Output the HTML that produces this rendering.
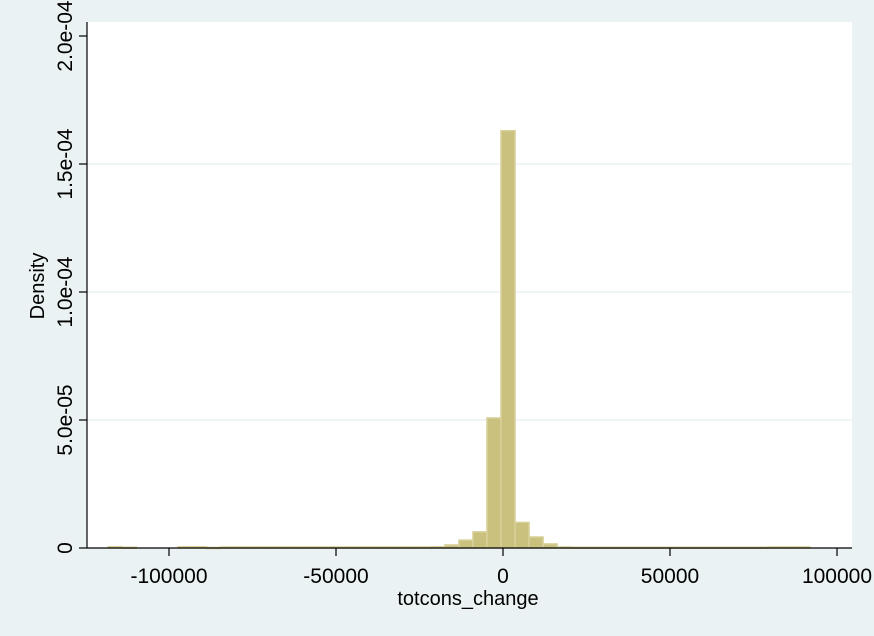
<!DOCTYPE html>
<html><head><meta charset="utf-8"><style>
html,body{margin:0;padding:0;background:#eaf2f3;}
svg{display:block;font-family:"Liberation Sans",Arial,sans-serif;}
</style></head><body>
<svg id="chart" width="874" height="636" viewBox="0 0 874 636">
<rect x="0" y="0" width="874" height="636" fill="#eaf2f3"/>
<rect x="87" y="22" width="765" height="526" fill="#ffffff"/>
<g id="grid"></g><g id="bars"></g><g id="axes"></g>
<text x="468" y="605" font-size="20" text-anchor="middle" fill="#000">totcons_change</text>
<text transform="translate(44,286) rotate(-90)" font-size="20" text-anchor="middle" fill="#000">Density</text>
</svg>
<script>
const binStart = -600;
const binWidth = 4200;
const binIndex = [-28,-27,-23,-22,-21,-20,-19,-18,-17,-16,-15,-14,-13,-12,-11,-10,-9,-8,-7,-6,-5,-4,-3,-2,-1,0,1,2,3,4,5,6,7,8,9,10,11,12,13,14,15,16,17,18,19,20,21];
const density = [0.5,0.3,0.5,0.5,0.2,0.4,0.4,0.4,0.4,0.4,0.4,0.4,0.4,0.4,0.4,0.4,0.4,0.4,0.4,0.4,0.5,1.2,3.1,6.3,50.8,163,10,4.3,1.6,0.4,0.3,0.3,0.3,0.3,0.3,0.3,0.3,0.3,0.3,0.3,0.3,0.3,0.3,0.3,0.4,0.4,0.4];
const yTicks = [0,50,100,150,200];
const yTickLabels = ["0","5.0e-05","1.0e-04","1.5e-04","2.0e-04"];
const xTicks = [-100000,-50000,0,50000,100000];
const xTickLabels = ["-100000","-50000","0","50000","100000"];
const NS="http://www.w3.org/2000/svg";
const xs = v => 503 + v*(167/50000);
const ys = v => 548 - v*(128/50);
const grid=document.getElementById('grid'), bars=document.getElementById('bars'), axes=document.getElementById('axes');
function mk(tag, attrs, parent){const e=document.createElementNS(NS,tag);for(const k in attrs)e.setAttribute(k,attrs[k]);parent.appendChild(e);return e;}
yTicks.forEach((t,i)=>{
  if(t>0&&t<200){const g=mk('line',{x1:87,x2:852,y1:ys(t),y2:ys(t),stroke:'#eaf2f3','stroke-width':1.5},grid);
  
  }
  const tk=mk('line',{x1:79,x2:87,y1:ys(t),y2:ys(t),stroke:'#000','stroke-width':1.2},axes);
  
  
  const tx=mk('text',{transform:`translate(72,${ys(t)}) rotate(-90)`,'font-size':21,'text-anchor':'middle',fill:'#000'},axes);
  tx.textContent=yTickLabels[i];
  
  
});
binIndex.forEach((b,i)=>{
  const x0=xs(binStart+b*binWidth), x1=xs(binStart+(b+1)*binWidth);
  const y=ys(density[i]);
  const r=mk('rect',{x:x0,y:y,width:x1-x0,height:Math.max(548-y,1),fill:'#c9c17d',stroke:'#d8d19a','stroke-width':1.5},bars);
  
  
});
const ya=mk('line',{x1:87,x2:87,y1:22,y2:548,stroke:'#000','stroke-width':1.2},axes);


const xa=mk('line',{x1:87,x2:852,y1:548,y2:548,stroke:'#000','stroke-width':1.2},axes);


xTicks.forEach((t,i)=>{
  const tk=mk('line',{x1:xs(t),x2:xs(t),y1:548,y2:556,stroke:'#000','stroke-width':1.2},axes);
  
  
  const tx=mk('text',{x:xs(t),y:583,'font-size':21,'text-anchor':'middle',fill:'#000'},axes);
  tx.textContent=xTickLabels[i];
  
  
});
</script>
</body></html>
